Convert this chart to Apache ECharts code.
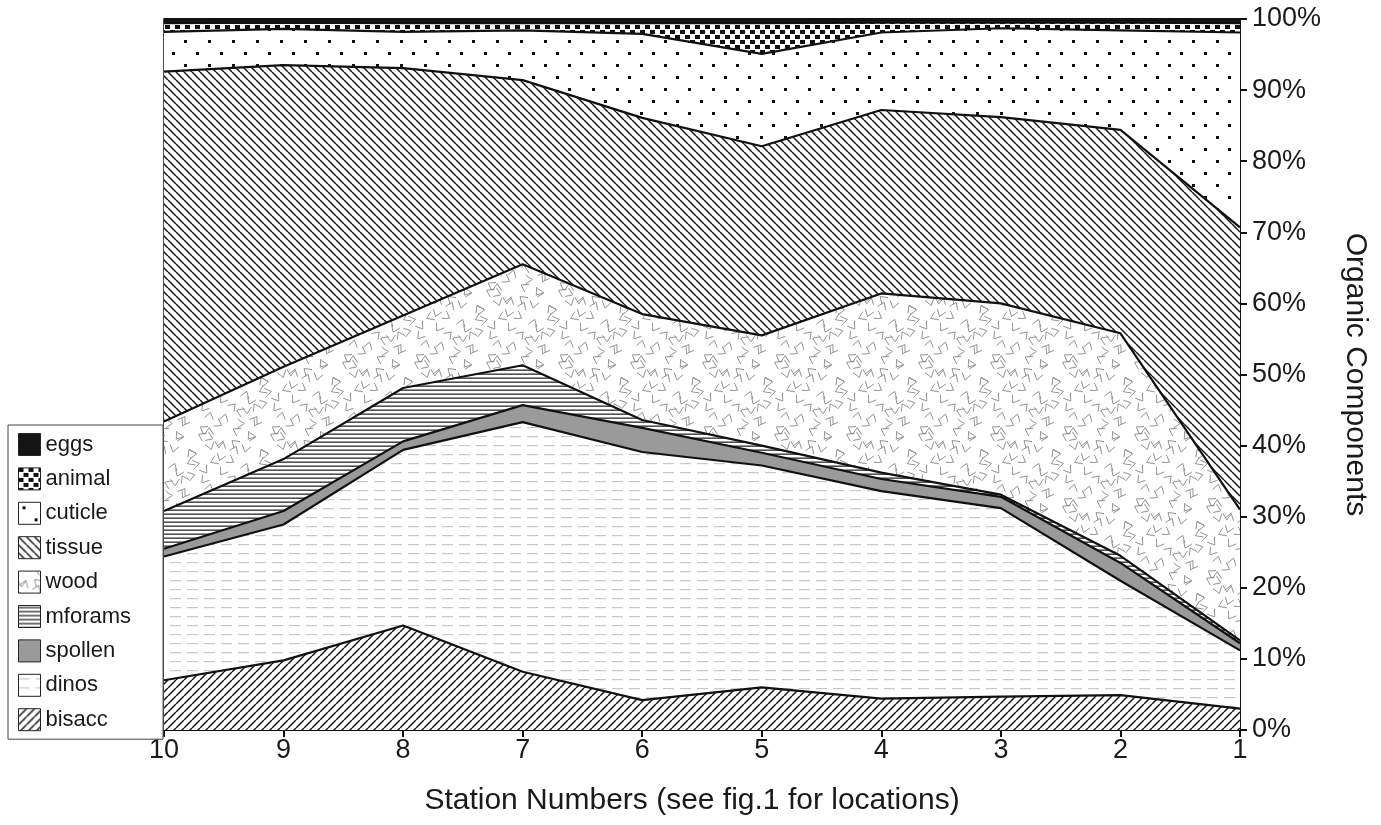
<!DOCTYPE html>
<html>
<head>
<meta charset="utf-8">
<title>Organic Components</title>
<script src="https://cdn.jsdelivr.net/npm/echarts@6/dist/echarts.min.js"></script>
<style>
  html, body { margin: 0; padding: 0; background: #fff; }
  #chart { width: 1381px; height: 825px; }
</style>
</head>
<body>
<div id="chart"></div>
<script>
// stations, left to right
const stations = ['10', '9', '8', '7', '6', '5', '4', '3', '2', '1'];

// percent of organic components per station
const bisacc  = [7.0, 9.8, 14.7, 8.2, 4.2, 6.0, 4.4, 4.7, 4.9, 3.0];
const dinos   = [17.4, 19.1, 24.7, 35.1, 34.9, 31.2, 29.2, 26.5, 16.1, 8.2];
const spollen = [1.1, 1.9, 1.2, 2.4, 3.4, 1.8, 1.7, 1.6, 2.5, 1.0];
const mforams = [5.3, 7.3, 7.5, 5.6, 1.1, 1.0, 0.9, 0.3, 1.0, 0.4];
const wood    = [12.6, 13.0, 10.2, 14.2, 14.9, 15.5, 25.2, 26.9, 31.3, 18.4];
const tissue  = [49.2, 42.4, 34.8, 25.9, 27.6, 26.6, 25.8, 26.2, 28.6, 39.7];
const cuticle = [5.6, 5.1, 5.1, 7.0, 11.8, 13.0, 10.9, 12.5, 14.0, 27.4];
const animal  = [1.2, 0.9, 1.2, 1.0, 1.5, 4.3, 1.4, 0.8, 1.1, 1.3];
const eggs    = [0.6, 0.5, 0.6, 0.6, 0.6, 0.6, 0.5, 0.5, 0.5, 0.6];

const yTicks = [0, 10, 20, 30, 40, 50, 60, 70, 80, 90, 100];

// ---- fill patterns drawn on small canvases ----
function tile(w, h, draw) {
  const c = document.createElement('canvas');
  c.width = w; c.height = h;
  const ctx = c.getContext('2d');
  ctx.fillStyle = '#fff';
  ctx.fillRect(0, 0, w, h);
  draw(ctx, w, h);
  return { image: c, repeat: 'repeat' };
}

function diag(size, back, width, color) {
  return tile(size, size, (ctx, w, h) => {
    ctx.strokeStyle = color;
    ctx.lineWidth = width;
    ctx.beginPath();
    for (let k = -1; k <= 1; k++) {
      if (back) {
        ctx.moveTo(k * w, 0); ctx.lineTo(k * w + w, h);
      } else {
        ctx.moveTo(k * w, h); ctx.lineTo(k * w + w, 0);
      }
    }
    ctx.stroke();
  });
}

const pat = {
  eggs: '#141414',
  animal: tile(10, 10, (ctx) => {
    ctx.fillStyle = '#111';
    ctx.fillRect(0, 0, 5, 4);
    ctx.fillRect(5, 5, 5, 4);
  }),
  cuticle: tile(24, 24, (ctx) => {
    ctx.fillStyle = '#111';
    ctx.fillRect(4, 4, 3, 3);
    ctx.fillRect(16, 16, 3, 3);
  }),
  tissue: diag(8, true, 1.5, '#1a1a1a'),
  wood: tile(72, 72, (ctx, w, h) => {
    ctx.strokeStyle = '#929292';
    ctx.lineWidth = 1;
    let s = 11;
    const rnd = () => { s = (s * 9301 + 49297) % 233280; return s / 233280; };
    const cell = 12;
    for (let gx = 0; gx < w / cell; gx++) {
      for (let gy = 0; gy < h / cell; gy++) {
        const x = gx * cell + 2 + rnd() * (cell - 4), y = gy * cell + 2 + rnd() * (cell - 4);
        const a = rnd() * Math.PI * 2, L = 8;
        for (let dx = -w; dx <= w; dx += w) {
          for (let dy = -h; dy <= h; dy += h) {
            ctx.beginPath();
            ctx.moveTo(x + dx + L * Math.cos(a - 0.6), y + dy + L * Math.sin(a - 0.6));
            ctx.lineTo(x + dx, y + dy);
            ctx.lineTo(x + dx + L * Math.cos(a + 0.6), y + dy + L * Math.sin(a + 0.6));
            ctx.stroke();
          }
        }
      }
    }
  }),
  mforams: tile(8, 4, (ctx, w) => {
    ctx.fillStyle = '#2a2a2a';
    ctx.fillRect(0, 1.5, w, 1.3);
  }),
  spollen: '#9a9a9a',
  dinos: tile(17, 9, (ctx) => {
    ctx.fillStyle = '#c8c8c8';
    ctx.fillRect(0, 4, 11, 1.2);
  }),
  bisacc: diag(8, false, 1.5, '#1a1a1a')
};

const layers = [
  ['bisacc', bisacc],
  ['dinos', dinos],
  ['spollen', spollen],
  ['mforams', mforams],
  ['wood', wood],
  ['tissue', tissue],
  ['cuticle', cuticle],
  ['animal', animal],
  ['eggs', eggs]
];

const series = layers.map(([name, vals]) => ({
  name: name,
  type: 'line',
  stack: 'total',
  data: vals,
  symbol: 'none',
  silent: true,
  animation: false,
  lineStyle: { color: '#111', width: 2.2 },
  itemStyle: { color: pat[name], borderColor: '#222', borderWidth: 1 },
  areaStyle: { color: pat[name], opacity: 1 }
}));

const legendOrder = ['eggs', 'animal', 'cuticle', 'tissue', 'wood', 'mforams', 'spollen', 'dinos', 'bisacc'];

const font = '"Liberation Sans", Arial, Helvetica, sans-serif';

const chart = echarts.init(document.getElementById('chart'));
chart.setOption({
  backgroundColor: '#fff',
  animation: false,
  textStyle: { fontFamily: font },
  grid: {
    left: 164, right: 141, top: 19, bottom: 95,
    show: true, borderColor: '#111', borderWidth: 1.5
  },
  legend: {
    orient: 'vertical',
    left: 8,
    top: 425,
    padding: [8, 32, 8, 10],
    icon: 'rect',
    itemWidth: 22,
    itemHeight: 22,
    itemGap: 11.4,
    itemTextGap: 10,
    borderColor: '#444',
    borderWidth: 1,
    backgroundColor: '#fff',
    textStyle: { fontSize: 22, color: '#1a1a1a', fontFamily: font },
    data: legendOrder.map(n => ({
      name: n,
      itemStyle: { color: pat[n], borderColor: '#222', borderWidth: 1 }
    }))
  },
  xAxis: {
    type: 'category',
    data: stations,
    boundaryGap: false,
    axisLine: { lineStyle: { color: '#111', width: 2 } },
    axisTick: { show: true, length: 7, lineStyle: { color: '#111', width: 2 } },
    axisLabel: { fontSize: 27, color: '#1a1a1a', margin: 7, fontFamily: font },
    name: 'Station Numbers (see fig.1 for locations)',
    nameLocation: 'middle',
    nameGap: 56,
    nameTextStyle: { fontSize: 30, color: '#1a1a1a', fontFamily: font, padding: [0, 20, 0, 0] },
    splitLine: { show: false }
  },
  yAxis: {
    type: 'value',
    position: 'right',
    min: yTicks[0],
    max: yTicks[yTicks.length - 1],
    interval: 10,
    axisLine: { show: true, lineStyle: { color: '#111', width: 2 } },
    axisTick: { show: true, length: 7, lineStyle: { color: '#111', width: 2 } },
    axisLabel: { fontSize: 27, color: '#1a1a1a', margin: 12, formatter: '{value}%', fontFamily: font },
    splitLine: { show: false },
    name: 'Organic Components',
    nameLocation: 'middle',
    nameRotate: -90,
    nameGap: 100,
    nameTextStyle: { fontSize: 30, color: '#1a1a1a', fontFamily: font }
  },
  series: series
});
</script>
</body>
</html>
